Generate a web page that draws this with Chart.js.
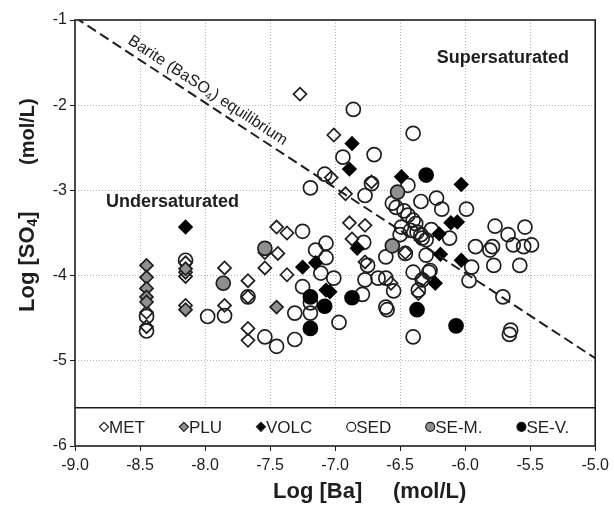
<!DOCTYPE html>
<html>
<head>
<meta charset="utf-8">
<script src="https://cdn.jsdelivr.net/npm/chart.js@4.4.0/dist/chart.umd.min.js"></script>
<style>
  html, body { margin: 0; padding: 0; background: #fff; }
</style>
</head>
<body>
<canvas id="chart" width="614" height="508"></canvas>
<script>
// Log[Ba] (x) and Log[SO4] (y), mol/L, one pair of arrays per group
const metX = [-8.45, -8.45, -8.15, -8.15, -8.15, -8.15, -7.85, -7.85, -7.67, -7.67, -7.67, -7.67, -7.54, -7.54, -7.45, -7.44, -7.37, -7.37, -7.27, -7.01, -7.03, -6.92, -6.72, -6.89, -6.77, -6.87, -6.77, -6.46, -6.57, -6.33, -6.36];
const metY = [-4.43, -4.60, -3.85, -3.96, -4.01, -4.35, -3.91, -4.35, -4.06, -4.25, -4.62, -4.76, -3.73, -3.91, -3.43, -3.74, -3.50, -3.99, -1.87, -2.35, -2.85, -3.04, -2.90, -3.38, -3.41, -3.57, -3.84, -3.73, -4.09, -4.05, -4.21];

const pluX = [-8.45, -8.45, -8.45, -8.45, -8.45, -8.15, -8.15, -7.45];
const pluY = [-3.88, -4.02, -4.15, -4.25, -4.31, -3.92, -4.40, -4.37];

const volcX = [-8.15, -6.87, -6.89, -6.49, -6.03, -6.11, -6.06, -6.20, -6.19, -6.03, -6.23, -6.83, -7.25, -7.15, -7.07, -7.04];
const volcY = [-3.43, -2.45, -2.75, -2.84, -2.93, -3.38, -3.37, -3.51, -3.75, -3.82, -4.09, -3.68, -3.90, -3.85, -4.17, -4.19];

const sedX = [-8.45, -8.45, -8.15, -7.98, -7.85, -7.67, -7.54, -7.45, -7.31, -7.31, -7.19, -7.25, -7.25, -7.19, -7.08, -6.94, -6.86, -6.70, -6.40, -6.72, -6.77,
  -7.07, -7.15, -7.07, -7.11, -7.01, -6.97, -7.19, -6.78, -6.75, -6.77, -6.79, -6.67, -6.61, -6.55, -6.61, -6.60, -6.61, -6.46, -6.30, -6.40, -6.28, -6.36, -6.40,
  -6.44, -6.56, -6.53, -6.34, -6.22, -6.18, -5.99, -6.47, -6.44, -6.40, -6.38, -6.49, -6.42, -6.37, -6.34, -6.26, -6.33, -6.30, -6.50, -6.12, -6.27, -6.33,
  -5.77, -5.67, -5.54, -5.92, -5.81, -5.79, -5.63, -5.55, -5.49, -5.78, -5.58, -5.95, -5.97, -5.71, -5.65, -5.66];
const sedY = [-4.48, -4.65, -3.82, -4.48, -4.47, -4.25, -4.72, -4.83, -4.75, -4.44, -4.44, -4.13, -3.48, -2.97, -2.81, -2.61, -2.05, -2.58, -2.33, -2.92, -3.06,
  -3.62, -3.70, -3.79, -3.97, -4.03, -4.55, -4.32, -3.61, -3.88, -4.05, -4.22, -4.03, -4.03, -4.18, -4.37, -4.40, -3.78, -3.74, -3.76, -3.96, -3.96, -4.17, -4.72,
  -2.94, -3.15, -3.20, -3.13, -3.09, -3.22, -3.22, -3.24, -3.29, -3.35, -3.39, -3.43, -3.47, -3.49, -3.52, -3.46, -3.56, -3.58, -3.52, -3.56, -3.94, -4.05,
  -3.42, -3.52, -3.43, -3.66, -3.70, -3.66, -3.64, -3.66, -3.64, -3.88, -3.88, -3.90, -4.06, -4.25, -4.64, -4.69];

const semX = [-6.52, -6.56, -7.54, -7.86];
const semY = [-3.02, -3.65, -3.68, -4.09];

const sevX = [-6.30, -7.19, -7.08, -7.19, -6.87, -6.37, -6.07];
const sevY = [-2.82, -4.25, -4.36, -4.62, -4.26, -4.40, -4.59];

// barite (BaSO4) equilibrium line
const eqX = [-9.0, -5.0];
const eqY = [-0.97, -4.97];

const groupLabels = ["MET", "PLU", "VOLC", "SED", "SE-M.", "SE-V."];
const xTicks = [-9.0, -8.5, -8.0, -7.5, -7.0, -6.5, -6.0, -5.5, -5.0];
const yTicks = [-1, -2, -3, -4, -5, -6];
const legendTop = -5.55;

const FONT = "'Liberation Sans', Arial, sans-serif";
const INK = "#1e1e1e";

function pts(xs, ys) {
  return xs.map((x, i) => ({ x: x, y: ys[i] }));
}

const groups = [
  { label: groupLabels[5], data: pts(sevX, sevY), pointStyle: "circle", pointRadius: 7, backgroundColor: "#000", borderColor: "#000" },
  { label: groupLabels[2], data: pts(volcX, volcY), pointStyle: "rectRot", pointRadius: 6.5, backgroundColor: "#000", borderColor: "#000" },
  { label: groupLabels[4], data: pts(semX, semY), pointStyle: "circle", pointRadius: 7, backgroundColor: "#8f8f8f", borderColor: INK },
  { label: groupLabels[1], data: pts(pluX, pluY), pointStyle: "rectRot", pointRadius: 6.5, backgroundColor: "#8f8f8f", borderColor: INK },
  { label: groupLabels[0], data: pts(metX, metY), pointStyle: "rectRot", pointRadius: 6.5, backgroundColor: "rgba(255,255,255,0)", borderColor: INK },
  { label: groupLabels[3], data: pts(sedX, sedY), pointStyle: "circle", pointRadius: 7, backgroundColor: "rgba(255,255,255,0)", borderColor: INK },
];
groups.forEach(g => { g.borderWidth = 1.7; g.pointBorderWidth = 1.7; g.showLine = false; });

// legend order as in the figure
const legendOrder = [4, 3, 1, 5, 2, 0];

function drawMarker(ctx, style, fill, x, y, r) {
  ctx.beginPath();
  if (style === "circle") {
    ctx.arc(x, y, r, 0, Math.PI * 2);
  } else {
    ctx.moveTo(x, y - r); ctx.lineTo(x + r, y); ctx.lineTo(x, y + r); ctx.lineTo(x - r, y); ctx.closePath();
  }
  ctx.fillStyle = fill.indexOf("rgba") === 0 ? "#fff" : fill;
  ctx.fill();
  ctx.lineWidth = 1.2;
  ctx.strokeStyle = INK;
  ctx.stroke();
}

const decorations = {
  id: "decorations",
  afterDatasetsDraw(chart) {
    const { ctx, chartArea: a, scales: { x, y } } = chart;
    ctx.save();

    // legend box at the bottom of the plot
    const ly = y.getPixelForValue(legendTop);
    ctx.fillStyle = "#fff";
    ctx.fillRect(a.left, ly, a.right - a.left, a.bottom - ly);
    ctx.beginPath();
    ctx.moveTo(a.left, ly); ctx.lineTo(a.right, ly);
    ctx.lineWidth = 1.5; ctx.strokeStyle = INK; ctx.stroke();

    ctx.font = "17px " + FONT;
    ctx.textBaseline = "middle";
    ctx.textAlign = "left";
    const my = (ly + a.bottom) / 2;
    let cx = a.left + 29;
    legendOrder.forEach(i => {
      const g = groups[i];
      drawMarker(ctx, g.pointStyle, g.backgroundColor, cx, my, 4.5);
      ctx.fillStyle = INK;
      ctx.fillText(g.label, cx + 5, my + 1);
      cx += 5 + ctx.measureText(g.label).width + 39;
    });

    // plot frame
    ctx.lineWidth = 1.6;
    ctx.strokeStyle = INK;
    ctx.strokeRect(a.left, a.top, a.right - a.left, a.bottom - a.top);

    // region labels
    ctx.fillStyle = INK;
    ctx.font = "bold 18px " + FONT;
    ctx.textAlign = "center";
    ctx.fillText("Supersaturated", x.getPixelForValue(-5.71), y.getPixelForValue(-1.45));
    ctx.fillText("Undersaturated", x.getPixelForValue(-8.25), y.getPixelForValue(-3.14));

    // text along the equilibrium line
    const x1 = x.getPixelForValue(eqX[0]), y1 = y.getPixelForValue(eqY[0]);
    const x2 = x.getPixelForValue(eqX[1]), y2 = y.getPixelForValue(eqY[1]);
    const ang = Math.atan2(y2 - y1, x2 - x1);
    const t = (-8.63 - eqX[0]) / (eqX[1] - eqX[0]);
    ctx.translate(x1 + (x2 - x1) * t, y1 + (y2 - y1) * t);
    ctx.rotate(ang);
    ctx.textAlign = "left";
    ctx.textBaseline = "alphabetic";
    let tx = 0;
    const ty = -7;
    ctx.font = "16px " + FONT;
    ctx.fillText("Barite (BaSO", tx, ty); tx += ctx.measureText("Barite (BaSO").width;
    ctx.font = "10px " + FONT;
    ctx.fillText("4", tx, ty + 3); tx += ctx.measureText("4").width;
    ctx.font = "16px " + FONT;
    ctx.fillText(") equilibrium", tx, ty);
    ctx.restore();
  },
  afterDraw(chart) {
    const { ctx } = chart;
    ctx.save();
    ctx.fillStyle = INK;
    ctx.textBaseline = "middle";
    ctx.textAlign = "left";

    // x title
    ctx.font = "bold 22px " + FONT;
    ctx.fillText("Log [Ba]", 273, 492);
    ctx.fillText("(mol/L)", 393, 492);

    // y title (rotated)
    ctx.translate(28, 312);
    ctx.rotate(-Math.PI / 2);
    let p = 0;
    ctx.font = "bold 22px " + FONT;
    ctx.fillText("Log [SO", p, 0); p += ctx.measureText("Log [SO").width;
    ctx.font = "bold 14px " + FONT;
    ctx.fillText("4", p, 5); p += ctx.measureText("4").width;
    ctx.font = "bold 22px " + FONT;
    ctx.fillText("]", p, 0);
    ctx.font = "bold 20px " + FONT;
    ctx.fillText("(mol/L)", 147, 0);
    ctx.restore();
  }
};

function gridColor(ctx, ends) {
  const v = ctx.tick ? ctx.tick.value : null;
  return ends.indexOf(v) >= 0 ? "rgba(0,0,0,0)" : "#b4b4b4";
}

new Chart(document.getElementById("chart"), {
  type: "scatter",
  data: {
    datasets: [
      {
        type: "line",
        label: "Barite equilibrium",
        data: pts(eqX, eqY),
        borderColor: INK,
        borderWidth: 2,
        borderDash: [10, 5],
        pointRadius: 0,
        fill: false,
      },
    ].concat(groups),
  },
  options: {
    responsive: false,
    animation: false,
    layout: { padding: { top: 20, right: 16, left: 0, bottom: 0 } },
    plugins: { legend: { display: false }, tooltip: { enabled: false } },
    scales: {
      x: {
        type: "linear",
        min: -9,
        max: -5,
        afterBuildTicks: s => { s.ticks = xTicks.map(v => ({ value: v })); },
        afterFit: s => { s.height = 62; },
        ticks: {
          color: INK,
          font: { family: FONT, size: 16 },
          padding: 5,
          maxRotation: 0,
          callback: v => v.toFixed(1),
        },
        grid: {
          color: c => gridColor(c, [-9, -5]),
          tickColor: INK,
          tickLength: 5,
          lineWidth: 1,
        },
        border: { display: false, dash: [1, 2] },
      },
      y: {
        type: "linear",
        min: -6,
        max: -1,
        afterBuildTicks: s => { s.ticks = yTicks.map(v => ({ value: v })); },
        afterFit: s => { s.width = 75; },
        ticks: {
          color: INK,
          font: { family: FONT, size: 16 },
          padding: 3,
          callback: v => String(v),
        },
        grid: {
          color: c => gridColor(c, [-1, -6]),
          tickColor: INK,
          tickLength: 5,
          lineWidth: 1,
        },
        border: { display: false, dash: [1, 2] },
      },
    },
  },
  plugins: [decorations],
});
</script>
</body>
</html>
